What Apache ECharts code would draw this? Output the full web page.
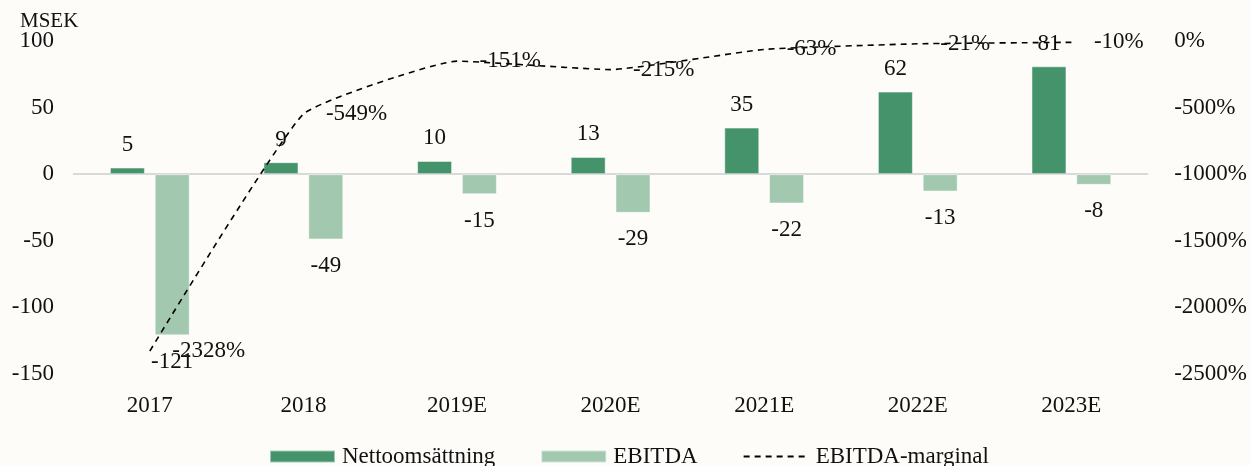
<!DOCTYPE html>
<html>
<head>
<meta charset="utf-8">
<script src="https://cdn.jsdelivr.net/npm/echarts@6/dist/echarts.min.js"></script>
<style>
  html, body { margin: 0; padding: 0; background: #fdfcf8; }
  #chart { width: 1250px; height: 466px; }
</style>
</head>
<body>
<div id="chart"></div>
<script>
// data
const years = ['2017', '2018', '2019E', '2020E', '2021E', '2022E', '2023E'];
const netSales = [5, 9, 10, 13, 35, 62, 81];
const ebitda = [-121, -49, -15, -29, -22, -13, -8];
const ebitdaMargin = [-2328, -549, -151, -215, -63, -21, -10];

const font = 'Liberation Serif, Times New Roman, serif';
const textColor = '#111';

let chart = echarts.init(document.getElementById('chart'));

let option = {
    backgroundColor: '#fdfcf8',
    animation: false,
    textStyle: { fontFamily: font, color: textColor },
    title: {
        text: 'MSEK',
        left: 15,
        top: 6,
        textStyle: { fontFamily: font, fontSize: 21, fontWeight: 'normal', color: textColor }
    },
    grid: { left: 73, right: 92, top: 41, bottom: 92 },
    legend: {
        left: 264,
        top: 440,
        itemWidth: 65,
        itemHeight: 12,
        itemGap: 45,
        textStyle: { fontFamily: font, fontSize: 23, color: textColor, padding: [0, 0, 0, 2] },
        data: [
            { name: 'Nettoomsättning', icon: 'rect' },
            { name: 'EBITDA', icon: 'rect' },
            { name: 'EBITDA-marginal' }
        ]
    },
    xAxis: {
        type: 'category',
        data: years,
        axisLine: { show: false },
        axisTick: { show: false },
        axisLabel: { margin: 20, fontSize: 23, fontFamily: font, color: textColor }
    },
    yAxis: [
        {
            type: 'value',
            min: -150,
            max: 100,
            interval: 50,
            axisLine: { show: false },
            axisTick: { show: false },
            axisLabel: { margin: 19, fontSize: 23, fontFamily: font, color: textColor },
            splitLine: {
                show: true,
                lineStyle: {
                    width: 2,
                    // only the zero line is visible
                    color: ['transparent', 'transparent', 'transparent', '#d9d9d9', 'transparent', 'transparent']
                }
            }
        },
        {
            type: 'value',
            min: -2500,
            max: 0,
            interval: 500,
            axisLine: { show: false },
            axisTick: { show: false },
            splitLine: { show: false },
            axisLabel: {
                margin: 26,
                fontSize: 23,
                fontFamily: font,
                color: textColor,
                formatter: (v) => v + '%'
            }
        }
    ],
    series: [
        {
            name: 'Nettoomsättning',
            type: 'bar',
            data: netSales,
            barWidth: 35,
            barGap: '28%',
            itemStyle: { color: '#45936a', borderColor: 'rgba(255,255,255,0.5)', borderWidth: 1 },
            label: {
                show: true,
                position: 'top',
                distance: 11,
                fontSize: 23,
                fontFamily: font,
                color: textColor
            }
        },
        {
            name: 'EBITDA',
            type: 'bar',
            data: ebitda,
            barWidth: 35,
            itemStyle: { color: '#a2c8af', borderColor: 'rgba(255,255,255,0.5)', borderWidth: 1 },
            label: {
                show: true,
                position: 'bottom',
                distance: 15,
                fontSize: 23,
                fontFamily: font,
                color: textColor
            }
        },
        {
            name: 'EBITDA-marginal',
            type: 'line',
            yAxisIndex: 1,
            data: ebitdaMargin,
            symbol: 'circle',
            symbolSize: 1,
            smooth: 0.12,
            lineStyle: { color: '#000', width: 1.6, type: [6, 5] },
            itemStyle: { color: 'transparent' },
            z: 5,
            label: {
                show: true,
                position: 'right',
                distance: 22,
                fontSize: 23,
                fontFamily: font,
                color: textColor,
                formatter: (p) => p.value + '%'
            }
        }
    ]
};

chart.setOption(option);
</script>
</body>
</html>
